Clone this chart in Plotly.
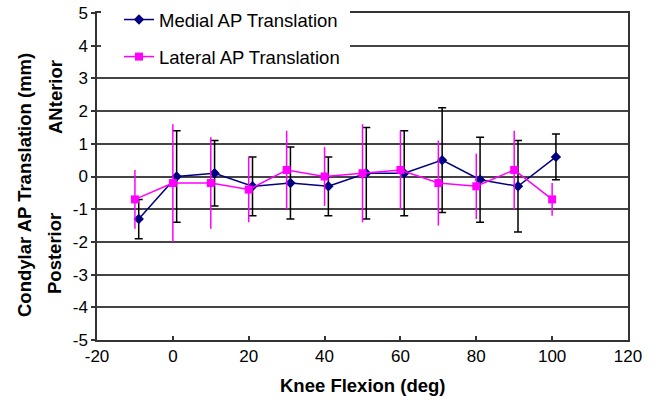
import plotly.graph_objects as go

flexion = [-10, 0, 10, 20, 30, 40, 50, 60, 70, 80, 90, 100]
medial = [-1.3, 0.0, 0.1, -0.3, -0.2, -0.3, 0.1, 0.1, 0.5, -0.1, -0.3, 0.6]
medial_sd = [0.6, 1.4, 1.0, 0.9, 1.1, 0.9, 1.4, 1.3, 1.6, 1.3, 1.4, 0.7]
lateral = [-0.7, -0.2, -0.2, -0.4, 0.2, 0.0, 0.1, 0.2, -0.2, -0.3, 0.2, -0.7]
lateral_sd = [0.9, 1.8, 1.4, 1.0, 1.2, 0.9, 1.5, 1.2, 1.3, 1.0, 1.2, 0.5]
x_ticks = [-20, 0, 20, 40, 60, 80, 100, 120]
y_ticks = [-5, -4, -3, -2, -1, 0, 1, 2, 3, 4, 5]

medial_offset = 1  # medial series drawn shifted slightly right for visibility

FONT = "Arial, Liberation Sans, Helvetica, sans-serif"

fig = go.Figure()
fig.add_trace(go.Scatter(
    x=[f + medial_offset for f in flexion], y=medial,
    mode="lines+markers", name="Medial AP Translation",
    line=dict(color="#000080", width=1.5),
    marker=dict(symbol="diamond", size=8, color="#000080"),
    error_y=dict(type="data", array=medial_sd, color="#000000", thickness=1.5, width=4),
    legendgroup="m",
))
fig.add_trace(go.Scatter(
    x=flexion, y=lateral,
    mode="lines+markers", name="Lateral AP Translation",
    line=dict(color="#FF00FF", width=1.5),
    marker=dict(symbol="square", size=8, color="#FF00FF"),
    error_y=dict(type="data", array=lateral_sd, color="#FF00FF", thickness=1.5, width=0),
    legendgroup="l",
))

L, R, T, B = 97, 36, 13, 63
W, H = 664, 403
pw, ph = W - L - R, H - T - B

def px2x(px):
    return (px - L) / pw

def px2y(py):
    return (H - B - py) / ph

fig.update_layout(
    width=W, height=H,
    margin=dict(l=L, r=R, t=T, b=B, autoexpand=False),
    paper_bgcolor="white", plot_bgcolor="white",
    font=dict(family=FONT, size=17, color="black"),
    showlegend=True,
    legend=dict(
        x=px2x(119), y=px2y(1), xanchor="left", yanchor="top",
        bgcolor="rgba(0,0,0,0)", borderwidth=0,
        font=dict(size=18.5, family=FONT),
        tracegroupgap=10, traceorder="grouped",
    ),
    xaxis=dict(
        range=[-20, 120], tickvals=x_ticks, ticktext=[str(v) for v in x_ticks],
        showgrid=False, zeroline=False,
        showline=True, linecolor="#333333", linewidth=1.5, mirror=True,
        ticks="inside", ticklen=4, tickcolor="#333333", tickwidth=1.5,
        tickfont=dict(size=17), ticklabeloverflow="allow",
    ),
    yaxis=dict(
        range=[-5, 5], tickvals=y_ticks, ticktext=[str(v) for v in y_ticks],
        showgrid=True, gridcolor="#444444", gridwidth=1.5, zeroline=False,
        showline=True, linecolor="#333333", linewidth=1.5, mirror=True,
        ticks="outside", ticklen=4, tickcolor="#333333", tickwidth=1.5,
        tickfont=dict(size=17), ticklabeloverflow="allow",
    ),
    shapes=[dict(
        type="rect", xref="paper", yref="paper", layer="above",
        x0=px2x(101), x1=px2x(350), y0=px2y(66), y1=px2y(0),
        fillcolor="white", line=dict(width=0),
    )],
    annotations=[
        dict(text="<b>Condylar AP Translation (mm)</b>", xref="paper", yref="paper",
             x=px2x(24), y=px2y(185), xanchor="center", yanchor="middle",
             textangle=-90, showarrow=False, font=dict(size=18.5)),
        dict(text="<b>ANterior</b>", xref="paper", yref="paper",
             x=px2x(55), y=px2y(97), xanchor="center", yanchor="middle",
             textangle=-90, showarrow=False, font=dict(size=18.5)),
        dict(text="<b>Posterior</b>", xref="paper", yref="paper",
             x=px2x(55), y=px2y(254), xanchor="center", yanchor="middle",
             textangle=-90, showarrow=False, font=dict(size=18.5)),
        dict(text="<b>Knee Flexion (deg)</b>", xref="paper", yref="paper",
             x=0.5, y=px2y(385), xanchor="center", yanchor="middle",
             showarrow=False, font=dict(size=18.5)),
    ],
)

# remove the default page margin so the figure fills the window exactly
fig.write_html(
    "out.html",
    config={"displayModeBar": False},
    post_script="document.body.style.margin='0';document.body.style.overflow='hidden';",
)
